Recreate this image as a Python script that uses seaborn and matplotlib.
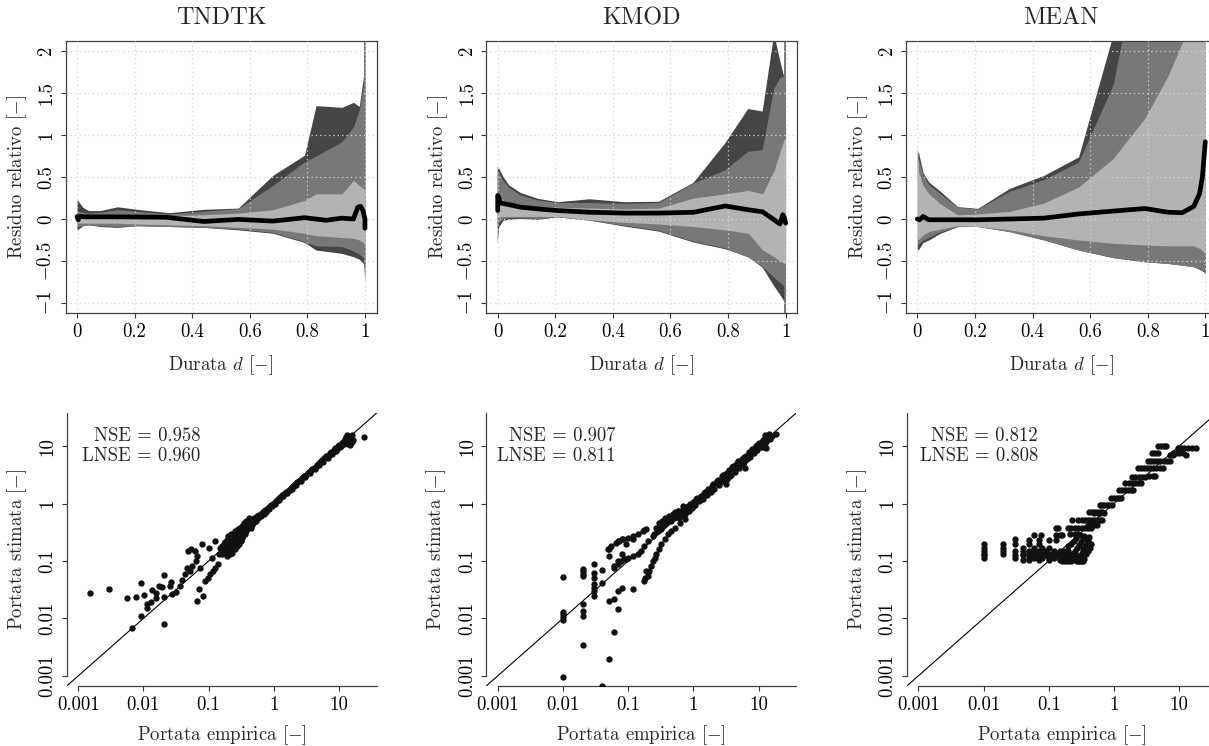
import numpy as np
import pandas as pd
import matplotlib
matplotlib.use("Agg")
import matplotlib.pyplot as plt
import seaborn as sns

# ---------------- data ----------------
models = ["TNDTK", "KMOD", "MEAN"]

# duration grids (d) for the quantile bands
d_tndtk = [0, 0.005, 0.02, 0.04, 0.08, 0.14, 0.21, 0.32, 0.44, 0.56, 0.68, 0.79, 0.83, 0.92, 0.96, 0.98, 0.995, 1.0]
d_grid = [0, 0.005, 0.02, 0.04, 0.08, 0.14, 0.21, 0.32, 0.44, 0.56, 0.68, 0.79, 0.87, 0.92, 0.96, 0.98, 0.995, 1.0]

# TNDTK bands
tn_dark_hi = [0.23, 0.21, 0.14, 0.10, 0.10, 0.145, 0.115, 0.075, 0.115, 0.13, 0.52, 0.76, 1.35, 1.33, 1.39, 1.34, 1.7, 5.0]
tn_mid_hi = [0.10, 0.09, 0.08, 0.07, 0.08, 0.11, 0.09, 0.06, 0.09, 0.125, 0.40, 0.68, 0.75, 0.92, 1.10, 1.30, 1.6, 5.0]
tn_light_hi = [0.06, 0.06, 0.05, 0.05, 0.05, 0.05, 0.05, 0.04, 0.05, 0.07, 0.11, 0.22, 0.30, 0.30, 0.46, 0.40, 0.36, 0.34]
tn_light_lo = [-0.05, -0.05, -0.05, -0.05, -0.05, -0.05, -0.06, -0.07, -0.08, -0.10, -0.12, -0.17, -0.20, -0.22, -0.23, -0.25, -0.28, -0.33]
tn_mid_lo = [-0.10, -0.09, -0.08, -0.07, -0.08, -0.09, -0.08, -0.09, -0.10, -0.12, -0.16, -0.27, -0.32, -0.33, -0.38, -0.42, -0.47, -0.50]
tn_dark_lo = [-0.14, -0.12, -0.08, -0.07, -0.09, -0.10, -0.08, -0.09, -0.10, -0.13, -0.17, -0.28, -0.37, -0.41, -0.45, -0.48, -0.53, -0.75]
tn_med_d = [0.0, 0.004, 0.01, 0.03, 0.14, 0.31, 0.44, 0.56, 0.68, 0.79, 0.865, 0.92, 0.96, 0.975, 0.985, 0.993, 1.0, 1.0]
tn_med = [0.03, -0.01, 0.03, 0.025, 0.025, 0.02, -0.03, -0.005, -0.025, 0.015, -0.015, 0.01, 0.0, 0.14, 0.15, 0.10, 0.0, -0.11]

# KMOD bands
km_dark_hi = [0.62, 0.60, 0.50, 0.40, 0.31, 0.24, 0.20, 0.235, 0.20, 0.205, 0.43, 0.90, 1.31, 1.28, 2.20, 1.90, 1.69, 5.0]
km_mid_hi = [0.56, 0.55, 0.45, 0.37, 0.28, 0.22, 0.19, 0.19, 0.18, 0.19, 0.42, 0.58, 0.80, 0.82, 1.55, 1.67, 1.70, 5.0]
km_light_hi = [0.30, 0.28, 0.22, 0.19, 0.17, 0.15, 0.14, 0.13, 0.12, 0.13, 0.25, 0.30, 0.34, 0.30, 0.58, 0.80, 0.95, 0.95]
km_light_lo = [0.02, 0.02, 0.03, 0.03, 0.03, 0.03, 0.03, -0.01, -0.04, -0.06, -0.09, -0.13, -0.17, -0.37, -0.45, -0.50, -0.53, -0.53]
km_mid_lo = [-0.10, -0.05, 0.0, 0.01, 0.01, 0.0, 0.02, -0.02, -0.08, -0.14, -0.27, -0.35, -0.46, -0.57, -0.70, -0.76, -0.80, -5.0]
km_dark_lo = [-0.30, -0.10, -0.02, -0.01, 0.0, -0.01, 0.02, -0.02, -0.09, -0.15, -0.28, -0.36, -0.45, -0.58, -0.80, -0.90, -0.98, -5.0]
km_med_d = [0.0, 0.0, 0.003, 0.01, 0.04, 0.08, 0.14, 0.21, 0.32, 0.44, 0.56, 0.68, 0.79, 0.87, 0.92, 0.96, 0.98, 0.99, 0.995, 1.0]
km_med = [0.10, 0.28, 0.26, 0.19, 0.17, 0.14, 0.12, 0.10, 0.08, 0.07, 0.07, 0.08, 0.155, 0.11, 0.085, -0.01, -0.06, 0.05, 0.02, -0.05]

# MEAN bands
me_dark_hi = [0.80, 0.78, 0.55, 0.44, 0.33, 0.147, 0.127, 0.364, 0.52, 0.74, 2.20, 3.5, 4.0, 4.0, 4.0, 4.0, 4.0, 4.0]
me_mid_hi = [0.72, 0.70, 0.52, 0.41, 0.30, 0.14, 0.12, 0.33, 0.47, 0.68, 1.60, 3.5, 4.0, 4.0, 4.0, 4.0, 4.0, 4.0]
me_light_hi = [0.86, 0.55, 0.40, 0.30, 0.18, 0.05, 0.06, 0.09, 0.19, 0.38, 0.72, 1.20, 1.70, 2.10, 2.45, 2.60, 2.70, 2.80]
me_light_lo = [-0.25, -0.24, -0.19, -0.15, -0.12, -0.08, -0.09, -0.13, -0.20, -0.25, -0.29, -0.31, -0.32, -0.32, -0.32, -0.35, -0.40, -0.42]
me_mid_lo = [-0.30, -0.30, -0.25, -0.22, -0.15, -0.09, -0.09, -0.15, -0.25, -0.37, -0.46, -0.51, -0.53, -0.55, -0.57, -0.59, -0.62, -0.63]
me_dark_lo = [-0.37, -0.36, -0.28, -0.25, -0.17, -0.09, -0.09, -0.15, -0.25, -0.37, -0.46, -0.51, -0.53, -0.55, -0.57, -0.60, -0.63, -0.66]
me_med_d = [0.0, 0.008, 0.02, 0.04, 0.21, 0.44, 0.56, 0.79, 0.87, 0.92, 0.96, 0.98, 0.99, 1.0]
me_med = [0.0, -0.01, 0.03, -0.01, -0.01, 0.01, 0.06, 0.125, 0.08, 0.075, 0.15, 0.30, 0.50, 0.92]

# scatter points: (portata empirica, portata stimata)
tndtk_points = [
    (0.0015, 0.0277), (0.0030, 0.033), (0.0057, 0.0228), (0.0076, 0.0237), (0.0091, 0.042),
    (0.0091, 0.0109), (0.0068, 0.0068), (0.0102, 0.0253), (0.0115, 0.0181), (0.0115, 0.0154),
    (0.0129, 0.0196), (0.0137, 0.0317), (0.0154, 0.0277), (0.0157, 0.023), (0.0173, 0.0367),
    (0.0195, 0.0348), (0.0206, 0.0571), (0.0204, 0.0081), (0.0206, 0.024), (0.0267, 0.043),
    (0.026, 0.0362), (0.0277, 0.0263), (0.0318, 0.0289), (0.0358, 0.0367), (0.0394, 0.0468),
    (0.0427, 0.0586), (0.0463, 0.0745), (0.048, 0.149), (0.054, 0.164), (0.0607, 0.149),
    (0.066, 0.020), (0.081, 0.025), (0.072, 0.033), (0.079, 0.195), (0.051, 0.067),
    (0.056, 0.082), (0.063, 0.10), (0.066, 0.122), (0.074, 0.077), (0.089, 0.045),
    (0.097, 0.051), (0.105, 0.059), (0.116, 0.067), (0.127, 0.077), (0.138, 0.09),
    (0.103, 0.166), (0.113, 0.111), (0.127, 0.223), (0.146, 0.131), (0.161, 0.171),
    (0.181, 0.149), (0.196, 0.195),
    (0.15, 0.17), (0.16, 0.13), (0.17, 0.15), (0.17, 0.20), (0.18, 0.14), (0.19, 0.17),
    (0.19, 0.23), (0.20, 0.15), (0.20, 0.19), (0.21, 0.17), (0.21, 0.26), (0.22, 0.16),
    (0.22, 0.20), (0.23, 0.19), (0.23, 0.24), (0.24, 0.18), (0.24, 0.29), (0.25, 0.21),
    (0.25, 0.25), (0.26, 0.20), (0.26, 0.30), (0.27, 0.23), (0.27, 0.27), (0.28, 0.22),
    (0.28, 0.33), (0.29, 0.25), (0.30, 0.24), (0.30, 0.30), (0.31, 0.27), (0.31, 0.35),
    (0.32, 0.26), (0.33, 0.30), (0.34, 0.28), (0.34, 0.38), (0.35, 0.32), (0.36, 0.30),
    (0.37, 0.36), (0.38, 0.33), (0.39, 0.42), (0.40, 0.37), (0.42, 0.40), (0.44, 0.38),
    (0.45, 0.46), (0.47, 0.43), (0.50, 0.48), (0.50, 0.56), (0.53, 0.50), (0.55, 0.58),
    (0.58, 0.55), (0.60, 0.62), (0.63, 0.60), (0.66, 0.68), (0.70, 0.66), (0.73, 0.75),
    (0.76, 0.72), (0.80, 0.82), (0.85, 0.80), (0.90, 0.93), (0.95, 0.90), (1.0, 1.02),
    (1.05, 0.98), (1.1, 1.12), (1.2, 1.15), (1.3, 1.30), (1.4, 1.36), (1.5, 1.55),
    (1.6, 1.50), (1.75, 1.75), (1.9, 1.82), (2.0, 2.05), (2.2, 2.10), (2.4, 2.45),
    (2.6, 2.50), (2.8, 2.90), (3.0, 2.85), (3.3, 3.35), (3.6, 3.40), (3.9, 4.0),
    (4.2, 4.0), (4.5, 4.7), (4.9, 4.6), (5.3, 5.5), (5.7, 5.3), (6.2, 6.4),
    (6.7, 6.3), (7.2, 7.5), (7.8, 7.2), (8.4, 8.6), (9.0, 8.3), (9.6, 10.2),
    (10.3, 9.5), (11.0, 11.5), (11.8, 10.8), (12.5, 13.5), (13.2, 12.2), (14.0, 15.0),
    (15.0, 13.5), (16.0, 11.8), (14.5, 10.5), (13.4, 15.9), (24.0, 14.5),
    (0.16, 0.18), (0.18, 0.21), (0.20, 0.22), (0.22, 0.24), (0.24, 0.26), (0.26, 0.27),
    (0.28, 0.29), (0.30, 0.32), (0.33, 0.34), (0.36, 0.39), (0.40, 0.43), (0.43, 0.45),
    (0.46, 0.50), (0.52, 0.53), (0.56, 0.60), (0.62, 0.64), (0.68, 0.70), (0.74, 0.78),
    (0.82, 0.85), (0.88, 0.90), (0.97, 1.0), (1.07, 1.10), (1.15, 1.18), (1.25, 1.28),
    (1.35, 1.40), (1.45, 1.45), (1.55, 1.60), (1.68, 1.70), (1.82, 1.85), (1.95, 2.0),
    (2.1, 2.15), (2.3, 2.35), (2.5, 2.6), (2.7, 2.75), (2.9, 3.0), (3.15, 3.2),
    (3.45, 3.5), (3.75, 3.8), (4.05, 4.2), (4.35, 4.4), (4.7, 4.9), (5.1, 5.2),
    (5.5, 5.7), (5.9, 6.1), (6.4, 6.8), (7.0, 7.1), (7.5, 7.9), (8.1, 8.0),
    (8.7, 9.2), (9.3, 9.0), (9.9, 10.6), (10.6, 10.2), (11.4, 12.0), (12.2, 11.5),
    (12.8, 14.2), (14.5, 14.0), (15.5, 15.5), (13.5, 11.0), (16.5, 13.0),
    (0.19, 0.12), (0.21, 0.13), (0.23, 0.14), (0.25, 0.16), (0.27, 0.18), (0.29, 0.20),
    (0.31, 0.22), (0.33, 0.25), (0.20, 0.27), (0.22, 0.30), (0.25, 0.33), (0.28, 0.36),
    (0.30, 0.38), (0.32, 0.41), (0.35, 0.45), (0.38, 0.50), (0.42, 0.55),
]

kmod_points = [
    (0.01, 0.0534), (0.01, 0.0132), (0.01, 0.0118), (0.01, 0.0106), (0.01, 0.0093), (0.01, 0.00096),
    (0.02, 0.0736), (0.02, 0.067), (0.02, 0.060), (0.02, 0.054), (0.02, 0.0176), (0.02, 0.0135),
    (0.02, 0.011), (0.02, 0.0034),
    (0.03, 0.0875), (0.03, 0.0627), (0.03, 0.0513), (0.03, 0.0393), (0.03, 0.0344), (0.03, 0.030),
    (0.03, 0.0246), (0.04, 0.0697), (0.04, 0.042), (0.04, 0.00068),
    (0.05, 0.16), (0.05, 0.122), (0.05, 0.0201), (0.05, 0.0020),
    (0.06, 0.082), (0.06, 0.0215), (0.06, 0.0058),
    (0.07, 0.223), (0.07, 0.030), (0.07, 0.0148), (0.07, 0.10),
    (0.08, 0.238), (0.08, 0.0344), (0.08, 0.134), (0.093, 0.195), (0.093, 0.107),
    (0.118, 0.238), (0.118, 0.033), (0.178, 0.341), (0.178, 0.0449), (0.18, 0.051), (0.185, 0.067),
    (0.0617, 0.0766), (0.0693, 0.0875), (0.078, 0.10), (0.0879, 0.107), (0.0989, 0.114),
    (0.118, 0.122), (0.141, 0.134), (0.158, 0.149), (0.178, 0.182), (0.20, 0.223),
    (0.239, 0.272), (0.285, 0.333), (0.321, 0.406), (0.383, 0.465), (0.43, 0.531),
    (0.484, 0.649), (0.578, 0.741), (0.69, 0.905),
    (0.20, 0.0548), (0.212, 0.067), (0.225, 0.0818), (0.239, 0.10), (0.254, 0.114),
    (0.269, 0.131), (0.296, 0.16), (0.321, 0.195), (0.361, 0.238), (0.407, 0.291),
    (0.457, 0.333), (0.514, 0.38), (0.614, 0.465), (0.731, 0.531),
    (0.0487, 0.16), (0.0548, 0.182), (0.0654, 0.208), (0.0736, 0.223), (0.0848, 0.238),
    (0.0989, 0.255), (0.118, 0.272), (0.141, 0.299), (0.168, 0.333), (0.185, 0.356),
    (0.25, 0.30), (0.27, 0.38), (0.30, 0.45), (0.32, 0.36), (0.33, 0.50), (0.35, 0.42),
    (0.37, 0.55), (0.40, 0.48), (0.42, 0.60), (0.45, 0.50), (0.48, 0.62), (0.50, 0.55),
    (0.52, 0.70), (0.55, 0.60), (0.58, 0.75), (0.62, 0.66),
    (0.65, 0.72), (0.70, 0.80), (0.75, 0.65), (0.80, 0.85), (0.85, 0.75), (0.90, 1.0),
    (0.95, 0.85), (1.0, 1.05), (1.05, 0.95), (1.1, 1.2), (1.2, 1.1), (1.3, 1.35),
    (1.4, 1.2), (1.5, 1.6), (1.6, 1.4), (1.7, 1.8), (1.85, 1.6), (2.0, 2.2),
    (2.1, 1.8), (2.3, 2.5), (2.5, 2.1), (2.7, 3.0), (2.9, 2.5), (3.1, 3.3),
    (3.19, 2.15), (3.3, 2.7), (3.5, 3.8), (3.8, 3.2), (4.0, 4.5), (4.3, 3.6),
    (4.6, 5.0), (5.0, 4.2), (5.3, 5.6), (5.7, 4.8), (6.0, 6.5), (6.1, 4.2),
    (6.6, 6.0), (7.0, 7.8), (7.5, 6.5), (8.0, 8.5), (8.5, 7.5), (9.0, 10.0),
    (9.6, 8.5), (10.2, 11.5), (10.8, 9.8), (11.5, 13.0), (12.0, 9.5), (12.5, 15.5),
    (13.0, 12.0), (13.1, 9.36), (14.0, 14.5), (15.0, 13.5), (18.7, 16.4), (12.5, 9.5),
    (1.15, 1.25), (1.25, 1.15), (1.45, 1.5), (1.65, 1.55), (1.9, 2.0), (2.2, 2.3),
    (2.4, 2.6), (2.6, 2.4), (2.8, 3.2), (3.0, 2.8), (3.4, 3.5), (3.6, 3.0),
    (3.9, 4.3), (4.2, 4.0), (4.5, 4.6), (4.8, 5.4), (5.2, 4.9), (5.5, 6.0),
    (5.9, 5.2), (6.3, 6.8), (6.8, 7.0), (7.3, 7.2), (7.8, 8.8), (8.3, 8.0),
    (8.8, 9.2), (9.3, 10.5), (9.9, 9.5), (10.5, 10.8), (11.2, 12.0), (11.8, 12.5),
    (12.3, 13.5), (13.5, 15.0), (14.5, 16.0), (16.0, 15.0),
    (0.55, 0.65), (0.60, 0.55), (0.68, 0.62), (0.72, 0.75), (0.78, 0.72), (0.82, 0.90),
    (0.88, 0.82), (0.93, 0.95), (0.98, 0.92),
]

mean_points = [
    (0.01, 0.20), (0.02, 0.20), (0.03, 0.20), (0.05, 0.20), (0.07, 0.20),
    (0.01, 0.17), (0.02, 0.17), (0.04, 0.17), (0.06, 0.17), (0.08, 0.17), (0.10, 0.17),
    (0.01, 0.15), (0.02, 0.15), (0.03, 0.15), (0.04, 0.15), (0.05, 0.15), (0.06, 0.15),
    (0.07, 0.15), (0.09, 0.15), (0.12, 0.15), (0.15, 0.15), (0.17, 0.15), (0.20, 0.15),
    (0.01, 0.135), (0.02, 0.135), (0.04, 0.135), (0.05, 0.135), (0.06, 0.135), (0.08, 0.135),
    (0.10, 0.135), (0.13, 0.135), (0.16, 0.135), (0.20, 0.135), (0.23, 0.135),
    (0.01, 0.125), (0.03, 0.125), (0.04, 0.125), (0.05, 0.125), (0.06, 0.125), (0.07, 0.125),
    (0.09, 0.125), (0.11, 0.125), (0.14, 0.125), (0.18, 0.125), (0.22, 0.125), (0.26, 0.125),
    (0.01, 0.115), (0.03, 0.115), (0.05, 0.115), (0.06, 0.115), (0.08, 0.115), (0.10, 0.115),
    (0.12, 0.115), (0.15, 0.115), (0.19, 0.115), (0.24, 0.115), (0.28, 0.115),
    (0.04, 0.105), (0.05, 0.105), (0.07, 0.105), (0.10, 0.105), (0.15, 0.105), (0.17, 0.105),
    (0.19, 0.105), (0.21, 0.105), (0.25, 0.105), (0.30, 0.105), (0.33, 0.105),
    (0.16, 0.098), (0.18, 0.098), (0.20, 0.098), (0.22, 0.098), (0.27, 0.098), (0.30, 0.098),
    (0.33, 0.098), (0.03, 0.24),
    (0.20, 0.18), (0.22, 0.20), (0.24, 0.22), (0.26, 0.25),
    (0.25, 0.15), (0.27, 0.17), (0.29, 0.19), (0.31, 0.21), (0.33, 0.24), (0.35, 0.27),
    (0.30, 0.12), (0.32, 0.14), (0.34, 0.16), (0.36, 0.18), (0.38, 0.20), (0.40, 0.23),
    (0.42, 0.26), (0.28, 0.10), (0.32, 0.10), (0.35, 0.11), (0.37, 0.13), (0.40, 0.15),
    (0.43, 0.17), (0.45, 0.20),
    (0.05, 0.23), (0.07, 0.23), (0.10, 0.23), (0.13, 0.23),
    (0.06, 0.28), (0.075, 0.28), (0.13, 0.28), (0.15, 0.28), (0.16, 0.28), (0.27, 0.28), (0.30, 0.28),
    (0.13, 0.37), (0.14, 0.37), (0.20, 0.37), (0.22, 0.37), (0.25, 0.37), (0.28, 0.37),
    (0.32, 0.37), (0.36, 0.37), (0.40, 0.37), (0.45, 0.37),
    (0.21, 0.30), (0.25, 0.30), (0.28, 0.30),
    (0.23, 0.52), (0.28, 0.52), (0.32, 0.52), (0.36, 0.52), (0.40, 0.52), (0.45, 0.52),
    (0.50, 0.52), (0.55, 0.52), (0.60, 0.52), (0.66, 0.52),
    (0.40, 0.42), (0.45, 0.42), (0.50, 0.42), (0.55, 0.42),
    (0.42, 0.72), (0.46, 0.72), (0.50, 0.72), (0.55, 0.72), (0.60, 0.72), (0.65, 0.72),
    (0.50, 0.68), (0.56, 0.68), (0.62, 0.68), (0.70, 0.68),
    (0.60, 0.95), (0.65, 0.95), (0.70, 0.95), (0.78, 0.95), (0.85, 0.95), (0.92, 0.95),
    (0.90, 1.25), (1.0, 1.25), (1.1, 1.25), (1.2, 1.25), (1.3, 1.25),
    (1.2, 1.7), (1.35, 1.7), (1.5, 1.7), (1.65, 1.7), (1.8, 1.7), (1.95, 1.7),
    (1.5, 2.3), (1.7, 2.3), (1.9, 2.3), (2.1, 2.3), (2.35, 2.3), (2.6, 2.3),
    (1.9, 2.9), (2.1, 2.9), (2.4, 2.9), (2.7, 2.9), (3.0, 2.9), (3.5, 3.0), (3.9, 3.0), (4.3, 3.0),
    (2.3, 4.1), (2.6, 4.1), (2.9, 4.1), (3.2, 4.1), (3.6, 4.1), (4.0, 4.1), (4.4, 4.1),
    (5.0, 4.1), (5.6, 4.1),
    (3.3, 5.6), (3.7, 5.6), (4.1, 5.6), (4.6, 5.6), (5.1, 5.6), (5.8, 5.6), (6.5, 5.6), (7.3, 5.6),
    (3.8, 7.6), (4.3, 7.6), (4.8, 7.6), (8.0, 7.6), (9.0, 7.6), (10.0, 7.6), (11.5, 7.6),
    (4.8, 9.9), (5.3, 9.9), (5.8, 9.9), (6.3, 9.9),
    (9.5, 9.3), (10.5, 9.3), (12.0, 9.3), (13.5, 9.3), (15.5, 9.3), (18.0, 9.3),
    (7.2, 7.0), (8.0, 7.0), (12.5, 7.0),
]

nse_text = ["NSE = 0.958\nLNSE = 0.960", "NSE = 0.907\nLNSE = 0.811", "NSE = 0.812\nLNSE = 0.808"]

bands = {
    "TNDTK": (d_tndtk, tn_dark_lo, tn_dark_hi, tn_mid_lo, tn_mid_hi, tn_light_lo, tn_light_hi, tn_med_d, tn_med),
    "KMOD": (d_grid, km_dark_lo, km_dark_hi, km_mid_lo, km_mid_hi, km_light_lo, km_light_hi, km_med_d, km_med),
    "MEAN": (d_grid, me_dark_lo, me_dark_hi, me_mid_lo, me_mid_hi, me_light_lo, me_light_hi, me_med_d, me_med),
}
scatters = {"TNDTK": tndtk_points, "KMOD": kmod_points, "MEAN": mean_points}

# ---------------- style ----------------
sns.set_theme(style="white")
plt.rcParams["font.family"] = ["cmr10", "DejaVu Serif"]
plt.rcParams["mathtext.fontset"] = "cm"
plt.rcParams["axes.unicode_minus"] = False
plt.rcParams["axes.formatter.use_mathtext"] = True

DARK, MID, LIGHT = "#454545", "#787878", "#b3b3b3"
FS = 13.5
W, H = 1209.0, 746.0

fig = plt.figure(figsize=(12.09, 7.46), dpi=100)

top_left = [65.5, 486.2, 905.8]
bot_left = [66.7, 486.2, 906.8]

for i, name in enumerate(models):
    # ---------- top: relative residual ----------
    ax = fig.add_axes([top_left[i] / W, (H - 313) / H, 311 / W, 272 / H])
    d, dlo, dhi, mlo, mhi, llo, lhi, md, mv = bands[name]
    ax.fill_between(d, dlo, dhi, color=DARK, lw=0, zorder=1)
    ax.fill_between(d, mlo, mhi, color=MID, lw=0, zorder=1.1)
    ax.fill_between(d, llo, lhi, color=LIGHT, lw=0, zorder=1.2)
    med_df = pd.DataFrame({"d": md, "r": mv})
    sns.lineplot(data=med_df, x="d", y="r", ax=ax, color="black", lw=3.4,
                 estimator=None, sort=False, zorder=4)
    ax.set_xlim(-0.04, 1.04)
    ax.set_ylim(-1.12, 2.12)
    ax.set_xticks([0, 0.2, 0.4, 0.6, 0.8, 1.0])
    ax.set_xticklabels(["0", "0.2", "0.4", "0.6", "0.8", "1"])
    ax.set_yticks([-1, -0.5, 0, 0.5, 1, 1.5, 2])
    ax.set_yticklabels(["$-1$", "$-0.5$", "0", "0.5", "1", "1.5", "2"], rotation=90, va="center")
    ax.set_axisbelow(False)
    ax.grid(True, color="#d4d4d4", linestyle=(0, (1, 2.5)), linewidth=0.9)
    ax.tick_params(direction="out", length=3.8, width=0.8, color="#333333",
                   labelsize=FS, labelcolor="black", pad=3.5, left=True, bottom=True)
    for s in ax.spines.values():
        s.set_visible(True)
        s.set_color("#404040")
        s.set_linewidth(0.9)
    ax.set_xlabel("Durata $d$ [$-$]", fontsize=FS, va="center")
    ax.set_ylabel("Residuo relativo [$-$]", fontsize=FS, va="center")
    ax.xaxis.set_label_coords(0.5, -(365 - 313) / 272)
    ax.yaxis.set_label_coords(-48.0 / 311, 0.5)
    ax.set_title(name, fontsize=17.5, y=1 + 22.7 / 272, va="center", pad=0)

    # ---------- bottom: estimated vs empirical ----------
    bx = fig.add_axes([bot_left[i] / W, (H - 686) / H, 310 / W, 273 / H])
    pts = pd.DataFrame(scatters[name], columns=["emp", "est"])
    bx.set_xscale("log")
    bx.set_yscale("log")
    lo, hi = 10 ** -3.176, 10 ** 1.576
    bx.set_xlim(lo, hi)
    bx.set_ylim(lo, hi)
    bx.plot([lo, hi], [lo, hi], color="black", lw=0.8, zorder=2)
    sns.scatterplot(data=pts, x="emp", y="est", ax=bx, color="#111111", s=21,
                    linewidth=0, zorder=3, legend=False)
    ticks = [0.001, 0.01, 0.1, 1, 10]
    tlabels = ["0.001", "0.01", "0.1", "1", "10"]
    bx.set_xticks(ticks)
    bx.set_xticklabels(tlabels)
    bx.set_yticks(ticks)
    bx.set_yticklabels(tlabels, rotation=90, va="center")
    bx.minorticks_off()
    bx.grid(False)
    bx.spines["top"].set_visible(False)
    bx.spines["right"].set_visible(False)
    for s in ("left", "bottom"):
        bx.spines[s].set_color("#404040")
        bx.spines[s].set_linewidth(0.9)
        bx.spines[s].set_bounds(0.001, hi)
    bx.tick_params(direction="out", length=3.8, width=0.8, color="#333333",
                   labelsize=FS, labelcolor="black", pad=3.5, left=True, bottom=True)
    bx.set_xlabel("Portata empirica [$-$]", fontsize=FS, va="center")
    bx.set_ylabel("Portata stimata [$-$]", fontsize=FS, va="center")
    bx.xaxis.set_label_coords(0.5, -(735 - 686) / 273)
    bx.yaxis.set_label_coords(-50.0 / 310, 0.5)
    xr = [0.43, 0.416, 0.424][i]
    bx.text(xr, 0.88, nse_text[i], transform=bx.transAxes, ha="right", va="center",
            fontsize=FS, multialignment="right", linespacing=1.15)

fig.savefig("out.png", dpi=100)
